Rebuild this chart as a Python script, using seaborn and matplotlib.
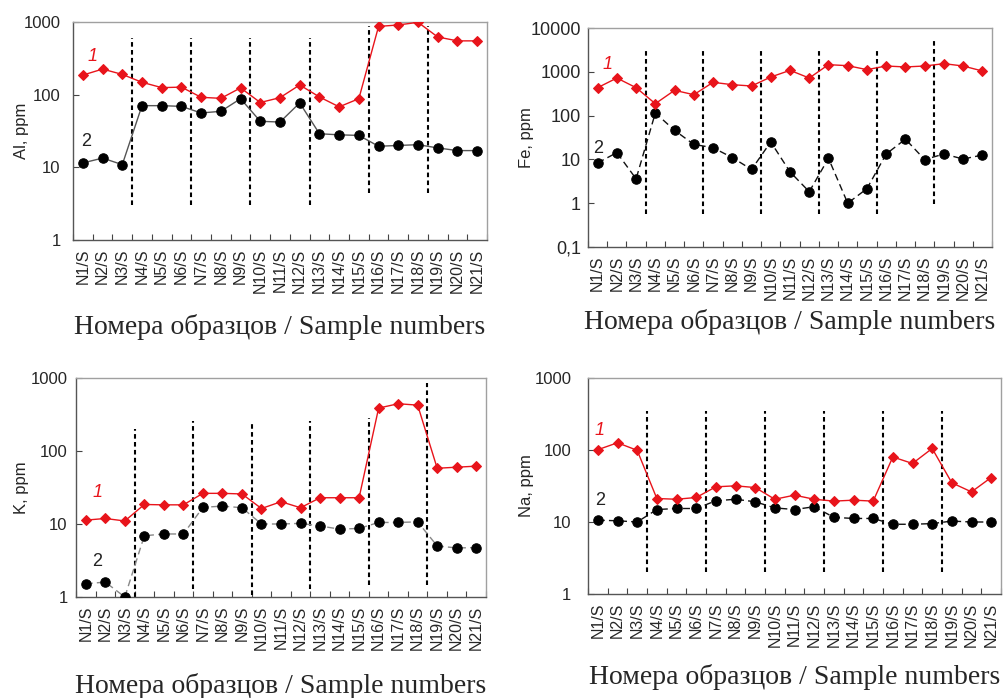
import numpy as np
import pandas as pd
import matplotlib
matplotlib.use("Agg")
import matplotlib.pyplot as plt
from matplotlib.ticker import FixedLocator, FixedFormatter, NullLocator
import seaborn as sns

samples = [f"N{i}/S" for i in range(1, 22)]

al_1 = [186, 225, 190, 148, 125, 127, 92, 89, 124, 78, 91, 136, 93, 68, 88, 870, 910, 990, 622, 550, 550]
al_2 = [11.5, 13.4, 10.9, 70.6, 70.6, 69, 56, 59, 88, 43, 42, 77, 29, 28, 27.5, 19.5, 20, 20.5, 18.5, 17, 17]

fe_1 = [434, 721, 434, 187, 378, 300, 575, 508, 474, 760, 1080, 721, 1455, 1380, 1120, 1356, 1290, 1356, 1535, 1356, 1043]
fe_2 = [8.3, 14.3, 3.6, 115, 46, 22, 18.5, 11, 5.9, 25, 5.2, 1.83, 10.6, 1.0, 2.15, 13.3, 29, 9.9, 13.3, 10.2, 12.6]

k_1 = [11.3, 11.9, 11, 18.5, 18.3, 18.3, 26.3, 26.3, 25.8, 16.3, 20.2, 16.7, 22.9, 22.9, 22.9, 387, 444, 425, 58, 60, 62]
k_2 = [1.52, 1.6, 1.0, 6.9, 7.3, 7.3, 16.9, 17.6, 16.7, 10, 10, 10.2, 9.4, 8.5, 8.7, 10.5, 10.5, 10.7, 5.0, 4.7, 4.75]

na_1 = [101, 126, 99, 21.2, 20.7, 21.9, 30.8, 31.8, 30.1, 20.7, 23.6, 20.7, 19.5, 20.1, 19.5, 80, 65, 105, 35, 26.2, 41.5]
na_2 = [10.6, 10.4, 10, 14.9, 15.4, 15.4, 19.7, 20.7, 19.1, 15.7, 14.9, 16.3, 11.6, 11.2, 11.2, 9.3, 9.3, 9.5, 10.3, 10, 10]

ylabels = ["Al, ppm", "Fe, ppm", "K, ppm", "Na, ppm"]
xlabel = "Номера образцов / Sample numbers"

sns.set_style("white")
plt.rcParams['font.family'] = ['Liberation Sans', 'DejaVu Sans']

W, H = 1005, 698
fig = plt.figure(figsize=(W / 100, H / 100), dpi=100)

def box(l, r, t, b):
    return [l / W, 1 - b / H, (r - l) / W, (b - t) / H]

panels = [
    dict(rect=box(73, 487, 22, 240), s1=al_1, s2=al_2, ylab=ylabels[0],
         ylim=(1, 1000), ticks=[1, 10, 100, 1000], tl=["1", "10", "100", "1000"],
         ls2="-", c2="#555555", yfs=12, ypad=9,
         vl=[(3, 600), (3, 600), (3, 600), (3, 600), (4.5, 880), (4.5, 880)],
         lab1=(0.5, 330), lab2=(0.15, 23), xl_y=327, yl_x=29),
    dict(rect=box(588, 992, 28, 247), s1=fe_1, s2=fe_2, ylab=ylabels[1],
         ylim=(0.1, 10000), ticks=[0.1, 1, 10, 100, 1000, 10000],
         tl=["0,1", "1", "10", "100", "1000", "10000"],
         ls2=(0, (5, 3)), c2="#111111", yfs=13, ypad=5,
         vl=[(0.58, 3380)] * 5 + [(0.95, 6000)],
         lab1=(0.5, 1500), lab2=(0.05, 18), xl_y=322, yl_x=534),
    dict(rect=box(76, 486, 378, 597), s1=k_1, s2=k_2, ylab=ylabels[2],
         ylim=(1, 1000), ticks=[1, 10, 100, 1000], tl=["1", "10", "100", "1000"],
         ls2=(0, (5, 3)), c2="#888888", yfs=12, ypad=6,
         vl=[(1.0, 200), (1.3, 254), (1.05, 254), (1.3, 254), (1.44, 282), (1.44, 855)],
         lab1=(0.6, 27), lab2=(0.6, 3.1), xl_y=686, yl_x=29),
    dict(rect=box(588, 1001, 378, 594), s1=na_1, s2=na_2, ylab=ylabels[3],
         ylim=(1, 1000), ticks=[1, 10, 100, 1000], tl=["1", "10", "100", "1000"],
         ls2=(0, (5, 3)), c2="#111111", yfs=12, ypad=12,
         vl=[(2.04, 348)] * 6,
         lab1=(0.1, 185), lab2=(0.1, 20), xl_y=677, yl_x=534),
]

idx = np.arange(len(samples))
red = "#e8141b"

for p in panels:
    ax = fig.add_axes(p["rect"])
    df = pd.DataFrame({"x": idx, "s1": p["s1"], "s2": p["s2"]})
    sns.lineplot(data=df, x="x", y="s2", ax=ax, color=p["c2"], linewidth=1.0,
                 linestyle=p["ls2"], marker="o", markersize=6.8,
                 markerfacecolor="black", markeredgecolor="black", zorder=3)
    sns.lineplot(data=df, x="x", y="s1", ax=ax, color=red, linewidth=1.0,
                 marker="D", markersize=5.5, markerfacecolor=red,
                 markeredgecolor=red, zorder=4)
    ax.set_yscale("log")
    ax.set_ylim(*p["ylim"])
    ax.set_xlim(-0.5, len(samples) - 0.5)
    for bx, (lo, hi) in zip([2.5, 5.5, 8.5, 11.5, 14.5, 17.5], p["vl"]):
        ax.vlines(bx, lo, hi, colors="black", linestyles=(0, (2.2, 1.6)),
                  linewidth=1.5, zorder=2)
    ax.yaxis.set_major_locator(FixedLocator(p["ticks"]))
    ax.yaxis.set_major_formatter(FixedFormatter(p["tl"]))
    ax.yaxis.set_minor_locator(NullLocator())
    ax.set_xticks(idx)
    ax.set_xticklabels(samples, rotation=90, fontsize=11.5)
    ax.set_xticks(np.arange(-0.5, len(samples)), minor=True)
    ax.tick_params(axis="x", which="major", length=0, pad=6)
    ax.tick_params(axis="x", which="minor", length=4, direction="in",
                   bottom=True, width=0.8, color="#444444")
    ax.tick_params(axis="y", which="major", length=4, direction="in",
                   left=True, width=0.8, color="#444444",
                   labelsize=p["yfs"], pad=p["ypad"])
    for s in ax.spines.values():
        s.set_visible(True)
        s.set_color("#a0a0a0")
        s.set_linewidth(1.0)
    ax.spines["left"].set_color("#555555")
    ax.spines["bottom"].set_color("#555555")
    ax.set_xlabel("")
    ax.set_ylabel(p["ylab"], fontsize=12)
    ax.yaxis.set_label_coords((p["yl_x"] - p["rect"][0] * W) / (p["rect"][2] * W), 0.5)
    ax.text(p["lab1"][0], p["lab1"][1], "1", color=red, fontsize=13,
            fontstyle="italic", ha="center", va="center")
    ax.text(p["lab2"][0], p["lab2"][1], "2", color="#222222", fontsize=13,
            ha="center", va="center")
    cx = p["rect"][0] + p["rect"][2] / 2
    fig.text(cx, 1 - p["xl_y"] / H, xlabel, ha="center", va="center",
             fontsize=20, family=["Liberation Serif", "DejaVu Serif"])

fig.savefig("out.png", dpi=100)
